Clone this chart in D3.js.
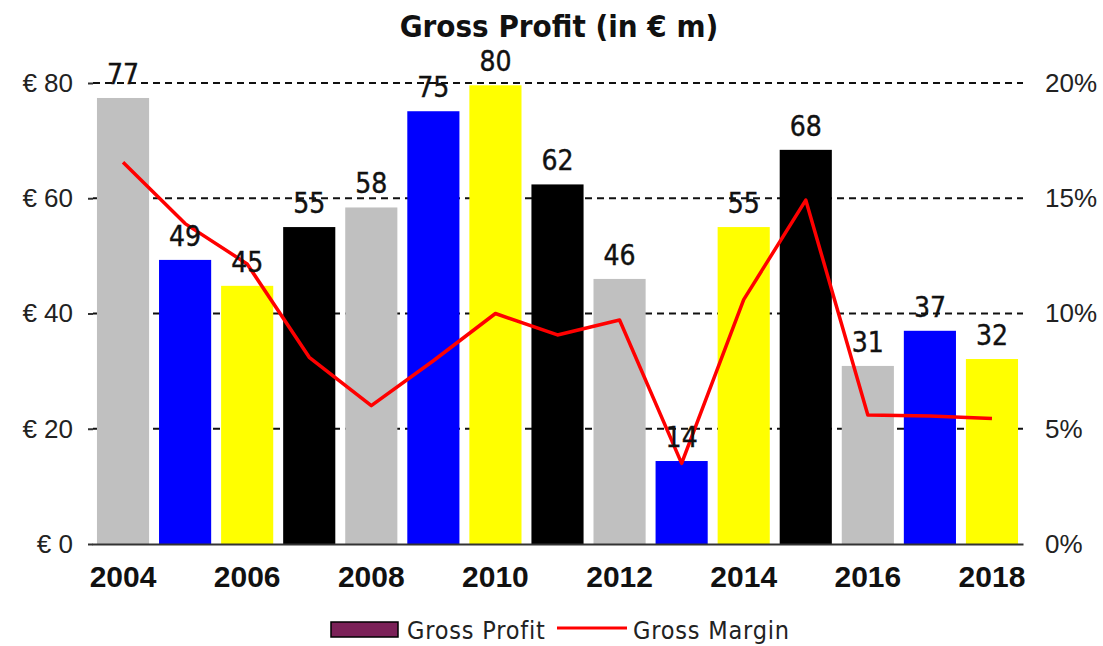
<!DOCTYPE html>
<html>
<head>
<meta charset="utf-8">
<script src="https://cdn.jsdelivr.net/npm/d3@7"></script>
<style>
  body { margin: 0; background: #fff; }
  svg { display: block; font-family: "DejaVu Sans Condensed", "DejaVu Sans", sans-serif; }
</style>
</head>
<body>
<svg id="chart" width="1103" height="646"></svg>
<script>
// chart data
const years = ["2004", "2005", "2006", "2007", "2008", "2009", "2010", "2011",
  "2012", "2013", "2014", "2015", "2016", "2017", "2018"];
const grossProfit = [77.4, 49.3, 44.8, 55.0, 58.4, 75.1, 79.6, 62.4, 46.0, 14.4, 55.0, 68.4, 30.9, 37.0, 32.1];
const grossMargin = [0.1656, 0.139, 0.1215, 0.081, 0.06, 0.0795, 0.10, 0.0907, 0.0972, 0.035, 0.106, 0.1492, 0.056, 0.0555, 0.0545];
const barColors = ["#c0c0c0", "#0000ff", "#ffff00", "#000000"];
const leftTicks = [0, 20, 40, 60, 80];
const rightTicks = [0, 0.05, 0.10, 0.15, 0.20];
const yearTicks = ["2004", "2006", "2008", "2010", "2012", "2014", "2016", "2018"];

const svg = d3.select("#chart");

// Scales
const x = d3.scaleBand()
  .domain(years)
  .range([92, 1023])
  .paddingInner(0.16)
  .paddingOuter(0.08);
const y = d3.scaleLinear().domain([0, 80]).range([544, 83]);
const y2 = d3.scaleLinear().domain([0, 0.2]).range([544, 83]);

// Title
svg.append("text")
  .attr("x", 559)
  .attr("y", 37)
  .attr("text-anchor", "middle")
  .attr("font-size", 31)
  .attr("font-weight", "bold")
  .attr("fill", "#111")
  .text("Gross Profit (in € m)");

// Dashed gridlines (behind the bars)
svg.append("g")
  .selectAll("line")
  .data(leftTicks.filter((d) => d > 0))
  .enter()
  .append("line")
  .attr("x1", 93)
  .attr("x2", 1023)
  .attr("y1", (d) => y(d))
  .attr("y2", (d) => y(d))
  .attr("stroke", "#111")
  .attr("stroke-width", 2)
  .attr("stroke-dasharray", "7,5");

// Left axis
const leftAxis = svg.append("g")
  .attr("transform", "translate(93,0)")
  .call(d3.axisLeft(y).tickValues(leftTicks).tickFormat((d) => "€ " + d).tickSize(5).tickPadding(15));
leftAxis.select(".domain").remove();
leftAxis.selectAll(".tick line").attr("stroke", "#333").attr("stroke-width", 2);
leftAxis.selectAll("text").attr("font-size", 26).attr("fill", "#222").attr("font-family", "inherit");

// Right axis
const rightAxis = svg.append("g")
  .attr("transform", "translate(1023,0)")
  .call(d3.axisRight(y2).tickValues(rightTicks).tickFormat(d3.format(".0%")).tickSize(0).tickPadding(22));
rightAxis.select(".domain").remove();
rightAxis.selectAll("text").attr("font-size", 26).attr("fill", "#222").attr("font-family", "inherit");

// Bars
svg.append("g")
  .selectAll("rect")
  .data(years)
  .enter()
  .append("rect")
  .attr("x", (d) => x(d))
  .attr("width", x.bandwidth())
  .attr("y", (d, i) => y(grossProfit[i]))
  .attr("height", (d, i) => y(0) - y(grossProfit[i]))
  .attr("fill", (d, i) => barColors[i % barColors.length]);

// Bottom axis
const bottomAxis = svg.append("g")
  .attr("transform", "translate(0,544)")
  .call(d3.axisBottom(x).tickValues(yearTicks).tickSize(0).tickSizeOuter(0).tickPadding(22));
bottomAxis.select(".domain").attr("stroke", "#333").attr("stroke-width", 2);
bottomAxis.selectAll("text")
  .attr("font-size", 30)
  .attr("font-weight", "bold")
  .attr("fill", "#111")
  .attr("font-family", "inherit");

// Gross margin line
const line = d3.line()
  .x((d, i) => x(years[i]) + x.bandwidth() / 2)
  .y((d) => y2(d));
svg.append("path")
  .datum(grossMargin)
  .attr("d", line)
  .attr("fill", "none")
  .attr("stroke", "#ff0000")
  .attr("stroke-width", 3.5)
  .attr("stroke-linejoin", "round");

// Value labels
svg.append("g")
  .selectAll("text")
  .data(years)
  .enter()
  .append("text")
  .attr("x", (d) => x(d) + x.bandwidth() / 2)
  .attr("y", (d, i) => y(grossProfit[i]) - 14)
  .attr("text-anchor", "middle")
  .attr("font-size", 28)
  .attr("fill", "#111")
  .attr("stroke", "#111")
  .attr("stroke-width", 0.4)
  .text((d, i) => Math.round(grossProfit[i]));

// Legend
const legend = svg.append("g");
legend.append("rect")
  .attr("x", 331)
  .attr("y", 622)
  .attr("width", 67)
  .attr("height", 15)
  .attr("fill", "#7b2158")
  .attr("stroke", "#000")
  .attr("stroke-width", 1.5);
legend.append("text")
  .attr("x", 407)
  .attr("y", 639)
  .attr("font-size", 25)
  .attr("letter-spacing", 0.8)
  .attr("fill", "#222")
  .text("Gross Profit");
legend.append("line")
  .attr("x1", 557)
  .attr("x2", 627)
  .attr("y1", 628)
  .attr("y2", 628)
  .attr("stroke", "#ff0000")
  .attr("stroke-width", 3);
legend.append("text")
  .attr("x", 633)
  .attr("y", 639)
  .attr("font-size", 25)
  .attr("letter-spacing", 0.8)
  .attr("fill", "#222")
  .text("Gross Margin");
</script>
</body>
</html>
